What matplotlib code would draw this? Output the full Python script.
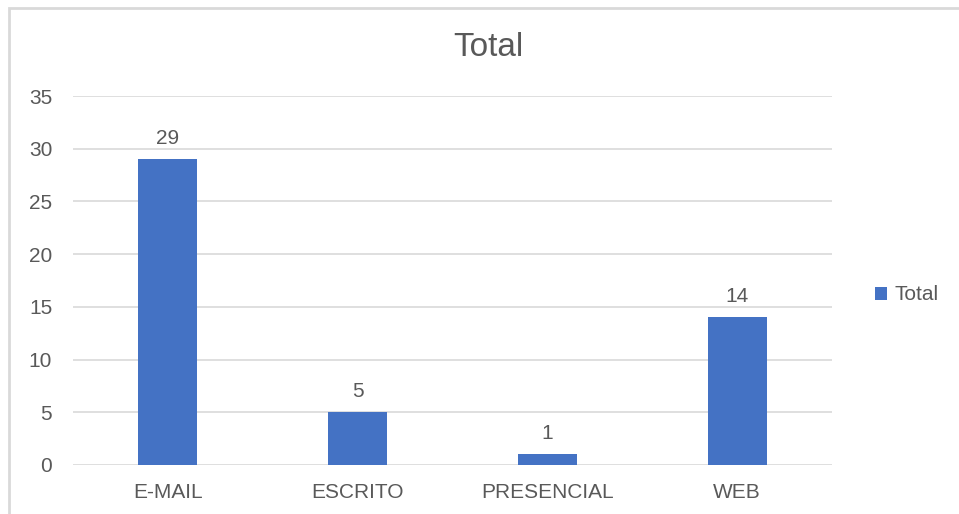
import matplotlib.pyplot as plt
from matplotlib.patches import Rectangle

# data
categories = ['E-MAIL', 'ESCRITO', 'PRESENCIAL', 'WEB']
values = [29, 5, 1, 14]
yticks = [0, 5, 10, 15, 20, 25, 30, 35]

plt.rcParams['font.family'] = ['Liberation Sans', 'DejaVu Sans']
text_color = '#595959'
bar_color = '#4472C4'

W, H = 959, 514
fig = plt.figure(figsize=(W / 100, H / 100), dpi=100)
ax = fig.add_axes([73 / W, 1 - 465 / H, (832 - 73) / W, (465 - 96) / H])

x = range(len(categories))
bars = ax.bar(x, values, width=0.31, color=bar_color, label='Total', zorder=3)
for b, v in zip(bars, values):
    ax.annotate(str(v), (b.get_x() + b.get_width() / 2, v), xytext=(0, 8),
                textcoords='offset points', ha='center', va='bottom',
                fontsize=15, color=text_color)

ax.set_xlim(-0.5, len(categories) - 0.5)
ax.set_ylim(0, 35)
ax.set_yticks(yticks)
ax.set_xticks(list(x))
ax.set_xticklabels(categories)
ax.grid(axis='y', color='#D9D9D9', linewidth=1.2, zorder=0)
for s in ax.spines.values():
    s.set_visible(False)
ax.tick_params(length=0, labelsize=15, labelcolor=text_color)
ax.tick_params(axis='y', pad=15)
ax.tick_params(axis='x', pad=13)

fig.text(488 / W, 1 - 48 / H, 'Total', ha='center', va='center',
         fontsize=24, color=text_color)

fig.legend(loc='center left', bbox_to_anchor=(856 / W, 1 - 295 / H), frameon=False,
           fontsize=15, labelcolor=text_color, handlelength=0.6, handleheight=0.6,
           handletextpad=0.35)

# chart border
fig.patches.append(Rectangle((9 / W, -0.1), 1.2, 1 - 8 / H + 0.1, transform=fig.transFigure,
                             fill=False, edgecolor='#D9D9D9', linewidth=2))

fig.savefig('out.png', dpi=100)
